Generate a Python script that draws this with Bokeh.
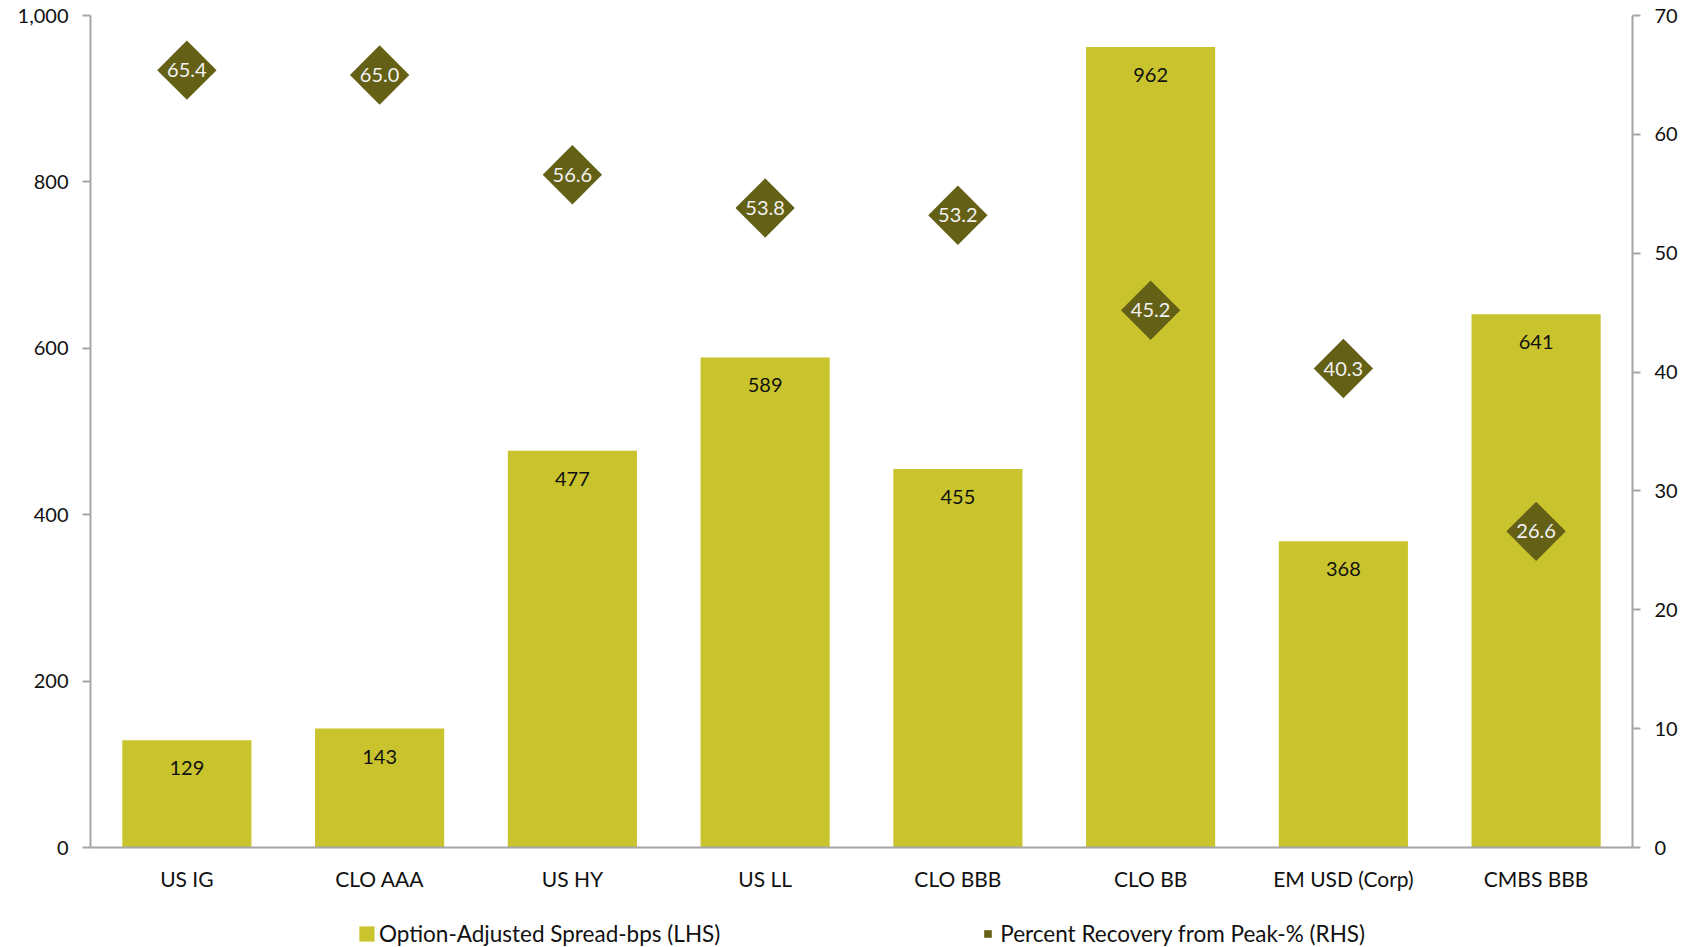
import math
from bokeh.plotting import figure
from bokeh.layouts import column
from bokeh.models import (ColumnDataSource, FactorRange, Range1d, LinearAxis,
                          SingleIntervalTicker, NumeralTickFormatter, Legend, LegendItem)
from bokeh.core.properties import value
from bokeh.embed import file_html
from bokeh.resources import INLINE

categories = ["US IG", "CLO AAA", "US HY", "US LL", "CLO BBB", "CLO BB", "EM USD (Corp)", "CMBS BBB"]
spread_bps = [129, 143, 477, 589, 455, 962, 368, 641]
recovery_pct = [65.4, 65.0, 56.6, 53.8, 53.2, 45.2, 40.3, 26.6]
series_names = ["Option-Adjusted Spread-bps (LHS)", "Percent Recovery from Peak-% (RHS)"]

FONT = "Lato"
BAR_COLOR = "#C9C42D"
DIAMOND_COLOR = "#646016"
AXIS_COLOR = "#A6A6A6"

src = ColumnDataSource(dict(
    cat=categories,
    spread=spread_bps,
    spread_lbl=[str(v) for v in spread_bps],
    rec=recovery_pct,
    rec_lbl=["%.1f" % v for v in recovery_pct],
))

p = figure(width=1690, height=895, x_range=FactorRange(*categories),
           y_range=Range1d(0, 1000), output_backend="svg", toolbar_location=None,
           min_border_left=90, min_border_right=58, min_border_top=15, min_border_bottom=48)
p.extra_y_ranges = {"right": Range1d(0, 70)}
p.outline_line_color = None
p.xgrid.visible = False
p.ygrid.visible = False
p.background_fill_color = "white"
p.border_fill_color = "white"

p.vbar(x="cat", top="spread", width=0.67, source=src, fill_color=BAR_COLOR, line_color=None)
p.text(x="cat", y="spread", text="spread_lbl", source=src, text_align="center",
       text_baseline="middle", y_offset=28, text_font=value(FONT), text_font_size="20px",
       text_color="#111111")

p.scatter(x="cat", y="rec", source=src, y_range_name="right", marker="square",
          angle=math.pi / 4, size=42, fill_color=DIAMOND_COLOR, line_color=None)
p.text(x="cat", y="rec", text="rec_lbl", source=src, y_range_name="right", text_align="center",
       text_baseline="middle", text_font=value(FONT), text_font_size="20px", text_color="#F2F2F2")

def style_axis(ax, size="20px"):
    ax.axis_line_color = AXIS_COLOR
    ax.axis_line_width = 2
    ax.major_tick_line_color = AXIS_COLOR
    ax.major_tick_line_width = 2
    ax.major_tick_out = 8
    ax.major_tick_in = 0
    ax.minor_tick_line_color = None
    ax.major_label_text_font = FONT
    ax.major_label_text_font_size = size
    ax.major_label_text_color = "#111111"

yl = p.yaxis[0]
yl.ticker = SingleIntervalTicker(interval=200, num_minor_ticks=0)
yl.formatter = NumeralTickFormatter(format="0,0")
style_axis(yl)
yl.major_label_standoff = 14

yr = LinearAxis(y_range_name="right", ticker=SingleIntervalTicker(interval=10, num_minor_ticks=0))
style_axis(yr)
yr.major_label_standoff = 14
p.add_layout(yr, "right")

xa = p.xaxis[0]
style_axis(xa, "21px")
xa.major_tick_line_color = None
xa.major_tick_out = 0
xa.major_label_standoff = 18

# legend strip below the chart (dummy renderers sit outside the visible range)
lg = figure(width=1690, height=52, x_range=Range1d(0, 1), y_range=Range1d(0, 1),
            output_backend="svg", toolbar_location=None, min_border=0, min_border_right=5)
lg.axis.visible = False
lg.xgrid.visible = False
lg.ygrid.visible = False
lg.outline_line_color = None
leg_bar = lg.vbar(x=[-5], top=[-5], width=0.5, fill_color=BAR_COLOR, line_color=None)
leg_dia = lg.scatter(x=[-5], y=[-5], marker="square", angle=math.pi / 4, size=10,
                     fill_color=DIAMOND_COLOR, line_color=None)
legend = Legend(items=[LegendItem(label=series_names[0], renderers=[leg_bar]),
                       LegendItem(label=series_names[1], renderers=[leg_dia])],
                orientation="horizontal", location="bottom", padding=0, margin=0,
                spacing=258, glyph_width=19, glyph_height=19, label_standoff=3,
                label_text_font=FONT, label_text_font_size="22.5px", label_text_color="#111111",
                border_line_color=None, background_fill_alpha=0)
lg.add_layout(legend, "center")

layout = column(p, lg, spacing=0)
open("out.html", "w").write(file_html(layout, INLINE))
